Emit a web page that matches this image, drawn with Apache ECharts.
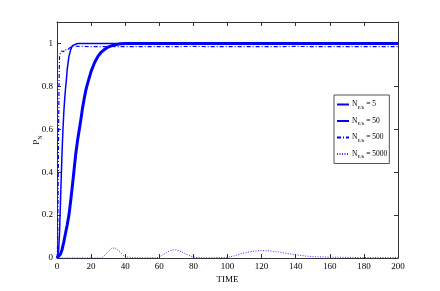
<!DOCTYPE html>
<html><head><meta charset="utf-8">
<script src="https://cdn.jsdelivr.net/npm/echarts@6/dist/echarts.min.js"></script>
<style>html,body{margin:0;padding:0;background:#fff}#c{width:440px;height:291px}</style>
</head><body><div id="c"></div>
<script>
const legendValues = ['5', '50', '500', '5000'];
const xTicks = [0, 20, 40, 60, 80, 100, 120, 140, 160, 180, 200];
const yTicks = [0, 0.2, 0.4, 0.6, 0.8, 1];

const t5 = [0,1,2,3,4,5,6,7,8,9,10,11,12,13,14,15,16,17,18,20,22,24,26,28,30,33,36,40,50,200];
const p5 = [0,0.005,0.018,0.04,0.075,0.115,0.155,0.2,0.265,0.335,0.41,0.485,0.545,0.595,0.645,0.7,0.745,0.785,0.815,0.87,0.91,0.94,0.96,0.973,0.983,0.992,0.997,1,1,1];

const t50 = [0,0.5,1,1.5,2,2.5,3,3.5,4,4.5,5,5.5,6,7,8,9,10,12,200];
const p50 = [0,0.01,0.04,0.12,0.25,0.38,0.5,0.6,0.68,0.74,0.79,0.83,0.88,0.94,0.97,0.99,0.998,1,1];

const t500 = [0,0.3,0.6,0.9,1.2,1.5,2,2.5,3,3.5,4,4.5,5,5.5,6,6.5,7,7.5,8,9,10,11,12,15,20,30,40,60,80,100,120,140,160,180,200];
const p500 = [0,0.05,0.25,0.55,0.82,0.94,0.955,0.965,0.958,0.97,0.962,0.972,0.965,0.975,0.968,0.976,0.972,0.98,0.985,0.988,0.99,0.987,0.985,0.986,0.985,0.986,0.985,0.985,0.986,0.985,0.985,0.986,0.985,0.985,0.985];

const t5000 = [0,20,26,28,30,32,33,34,36,38,40,45,50,58,60,62,64,66,68,69,70,72,74,76,78,80,82,90,100,104,108,112,116,120,124,128,132,136,140,145,150,160,170,180,190,200];
const p5000 = [0,0,0,0.012,0.03,0.045,0.05,0.047,0.035,0.02,0.005,0.002,0.001,0.001,0.005,0.015,0.025,0.033,0.038,0.039,0.038,0.033,0.025,0.017,0.01,0.005,0.002,0.001,0.003,0.01,0.02,0.027,0.032,0.035,0.034,0.03,0.025,0.02,0.015,0.01,0.006,0.004,0.003,0.002,0.002,0.002];

const zip = (a, b) => a.map((v, i) => [v, b[i]]);
const FONT = 'Liberation Serif';
const BLUE = '#0000ff';
const AX = '#333';

const chart = echarts.init(document.getElementById('c'), null, {renderer: 'canvas'});
const mkName = v => 'N' + v;
const baseAxisX = {
  type: 'value', min: 0, max: 200, interval: 20,
  axisLine: {show: true, onZero: false, lineStyle: {color: AX, width: 1}},
  axisTick: {show: true, inside: true, length: 4, lineStyle: {color: AX}},
  splitLine: {show: false}
};
const baseAxisY = {
  type: 'value', min: 0, max: 1.1, interval: 0.2,
  axisLine: {show: true, onZero: false, lineStyle: {color: AX, width: 1}},
  axisTick: {show: true, inside: true, length: 4, lineStyle: {color: AX}},
  splitLine: {show: false}
};
chart.setOption({
  animation: false,
  backgroundColor: '#fff',
  grid: {left: 57, right: 42, top: 22, bottom: 33, show: false},
  legend: {
    orient: 'vertical', left: 334, top: 95,
    itemWidth: 12, itemHeight: 8, itemGap: 5.5,
    padding: [4, 2, 4, 2],
    borderColor: '#555', borderWidth: 1, backgroundColor: '#fff',
    itemStyle: {color: 'rgba(0,0,0,0)', borderWidth: 0, opacity: 0},
    data: legendValues.map(mkName),
    formatter: n => '{n|N}{s|E/b}{n| = ' + n.slice(1) + '}',
    textStyle: {
      fontFamily: FONT, fontSize: 7.5, color: '#000', padding: [0, 0, 0, -2],
      rich: {
        n: {fontFamily: FONT, fontSize: 7.5, color: '#000', lineHeight: 12},
        s: {fontFamily: FONT, fontSize: 5, color: '#000', padding: [6, 0, 0, 0], lineHeight: 12}
      }
    }
  },
  xAxis: [
    Object.assign({}, baseAxisX, {
      position: 'bottom',
      name: 'TIME', nameLocation: 'middle', nameGap: 17, nameMoveOverlap: false,
      nameTextStyle: {fontFamily: FONT, fontSize: 9, color: '#000'},
      axisLabel: {fontFamily: FONT, fontSize: 9, color: '#000', margin: 4,
        formatter: v => xTicks.includes(v) ? String(v) : ''}
    }),
    Object.assign({}, baseAxisX, {position: 'top', axisLabel: {show: false}})
  ],
  yAxis: [
    Object.assign({}, baseAxisY, {
      position: 'left',
      name: '{p|P}{s|N}', nameLocation: 'middle', nameGap: 14, nameRotate: 90, nameMoveOverlap: false,
      nameTextStyle: {fontFamily: FONT, fontSize: 9, color: '#000',
        rich: {p: {fontFamily: FONT, fontSize: 9, color: '#000', lineHeight: 12},
               s: {fontFamily: FONT, fontSize: 6, color: '#000', padding: [6, 0, 0, 0], lineHeight: 12}}},
      axisLabel: {fontFamily: FONT, fontSize: 9, color: '#000', margin: 4, showMaxLabel: false,
        formatter: v => { const r = Math.round(v * 10) / 10; return yTicks.includes(r) ? String(r) : ''; }}
    }),
    Object.assign({}, baseAxisY, {position: 'right', axisLabel: {show: false}})
  ],
  series: [
    {name: mkName('5'), type: 'line', data: zip(t5, p5), showSymbol: false, symbol: 'none', smooth: false,
     lineStyle: {color: BLUE, width: 3}, itemStyle: {color: BLUE}},
    {name: mkName('50'), type: 'line', data: zip(t50, p50), showSymbol: false, symbol: 'none',
     lineStyle: {color: BLUE, width: 1.5}, itemStyle: {color: BLUE}},
    {name: mkName('500'), type: 'line', data: zip(t500, p500), showSymbol: false, symbol: 'none',
     lineStyle: {color: BLUE, width: 1.2, type: [4, 2, 1, 2]}, itemStyle: {color: BLUE}},
    {name: mkName('5000'), type: 'line', data: zip(t5000, p5000), showSymbol: false, symbol: 'none',
     lineStyle: {color: BLUE, width: 1, type: [1, 1.5], opacity: 0.8}, itemStyle: {color: BLUE}}
  ]
});
</script></body></html>
